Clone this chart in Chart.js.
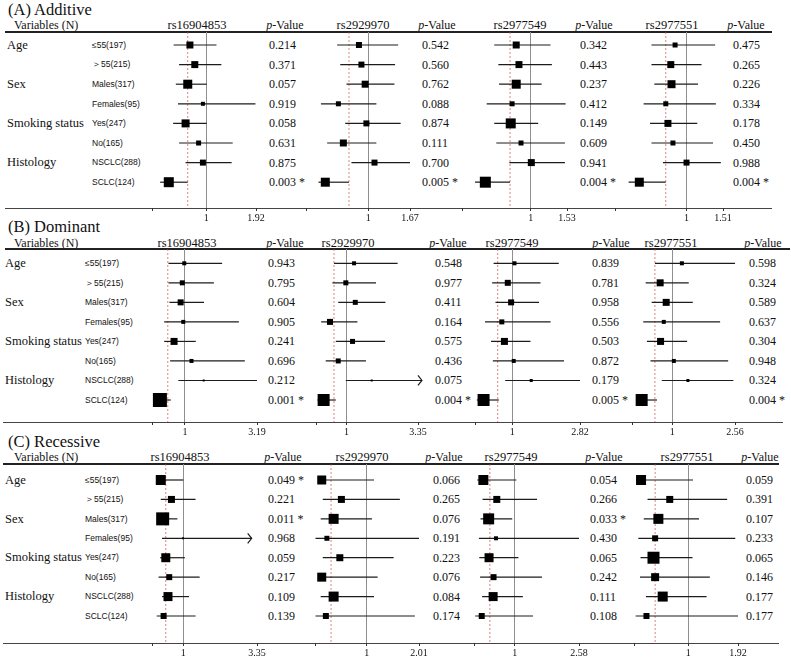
<!DOCTYPE html>
<html>
<head>
<meta charset="utf-8">
<script src="https://cdn.jsdelivr.net/npm/chart.js@4.4.0/dist/chart.umd.min.js"></script>
<style>
  body { margin: 0; background: #fff; }
  #page { position: relative; width: 791px; height: 659px; overflow: hidden;
          font-family: "Liberation Serif", "Times New Roman", serif; color: #111; }
  .t { position: absolute; white-space: nowrap; }
  .rule { position: absolute; }
  canvas { position: absolute; }
</style>
</head>
<body>
<div id="page"></div>
<script>
const snps = ['rs16904853', 'rs2929970', 'rs2977549', 'rs2977551'];
const groups = ['Age', 'Sex', 'Smoking status', 'Histology'];
const groupRows = [0, 2, 4, 6];
const subgroups = ['≤55', '＞55', 'Males', 'Females', 'Yes', 'No', 'NSCLC', 'SCLC'];
const counts = [197, 215, 317, 95, 247, 165, 288, 124];

// (A) additive model, one inner array per SNP
const addOR   = [[0.70, 0.79, 0.66, 0.94, 0.62, 0.86, 0.94, 0.31],
                 [0.85, 0.89, 0.95, 0.52, 0.97, 0.60, 1.10, 0.31],
                 [0.79, 0.83, 0.79, 0.73, 0.71, 0.86, 1.01, 0.34],
                 [0.84, 0.78, 0.79, 0.71, 0.74, 0.81, 1.00, 0.34]];
const addLow  = [[0.40, 0.50, 0.44, 0.48, 0.39, 0.50, 0.62, 0.15],
                 [0.50, 0.55, 0.65, 0.24, 0.63, 0.34, 0.73, 0.20],
                 [0.47, 0.53, 0.54, 0.36, 0.47, 0.50, 0.69, 0.19],
                 [0.51, 0.51, 0.55, 0.40, 0.49, 0.51, 0.67, 0.19]];
const addHigh = [[1.19, 1.28, 1.01, 1.91, 1.01, 1.49, 1.47, 0.66],
                 [1.48, 1.43, 1.42, 1.13, 1.52, 1.13, 1.67, 0.69],
                 [1.29, 1.31, 1.16, 1.51, 1.11, 1.50, 1.50, 0.70],
                 [1.40, 1.21, 1.16, 1.41, 1.15, 1.37, 1.48, 0.71]];
const addWeight = [[7, 7, 9, 4, 8, 5, 6, 10], [6, 6, 7, 5, 6, 7, 6, 9],
                   [7, 7, 9, 5, 10, 5, 7, 11], [5, 7, 8, 5, 7, 5, 6, 9]];
const addP = [['0.214', '0.371', '0.057', '0.919', '0.058', '0.631', '0.875', '0.003 *'],
              ['0.542', '0.560', '0.762', '0.088', '0.874', '0.111', '0.700', '0.005 *'],
              ['0.342', '0.443', '0.237', '0.412', '0.149', '0.609', '0.941', '0.004 *'],
              ['0.475', '0.265', '0.226', '0.334', '0.178', '0.450', '0.988', '0.004 *']];
const addRef = [0.66, 0.69, 0.70, 0.71];
const addMax = [1.92, 1.67, 1.53, 1.51];
const addArrow = [[], [], [], []];

// (B) dominant model
const domOR   = [[0.98, 0.92, 0.87, 0.95, 0.67, 1.20, 1.57, 0.24],
                 [1.25, 0.98, 1.29, 0.46, 1.20, 0.73, 1.83, 0.25],
                 [1.06, 0.88, 0.97, 0.72, 0.79, 1.04, 1.51, 0.23],
                 [1.24, 0.70, 0.85, 0.79, 0.71, 1.04, 1.39, 0.24]];
const domLow  = [[0.50, 0.50, 0.53, 0.37, 0.37, 0.55, 0.80, 0.05],
                 [0.59, 0.54, 0.73, 0.17, 0.65, 0.32, 0.98, 0.05],
                 [0.50, 0.46, 0.55, 0.27, 0.43, 0.48, 0.81, 0.05],
                 [0.57, 0.34, 0.49, 0.28, 0.37, 0.46, 0.74, 0.10]];
const domHigh = [[2.13, 1.88, 1.58, 2.64, 1.33, 2.82, 3.19, 0.57],
                 [2.68, 1.97, 2.28, 1.36, 2.27, 1.64, 3.48, 0.65],
                 [2.25, 1.76, 1.72, 2.03, 1.49, 2.39, 2.82, 0.64],
                 [2.56, 1.41, 1.51, 2.19, 1.37, 2.39, 2.52, 0.62]];
const domWeight = [[4, 5, 6, 4, 7, 4, 2, 14], [4, 5, 5, 6, 5, 5, 2, 12],
                   [4, 6, 6, 5, 7, 4, 3, 12], [4, 7, 7, 4, 7, 4, 3, 12]];
const domP = [['0.943', '0.795', '0.604', '0.905', '0.241', '0.696', '0.212', '0.001 *'],
              ['0.548', '0.977', '0.411', '0.164', '0.575', '0.436', '0.075', '0.004 *'],
              ['0.839', '0.781', '0.958', '0.556', '0.503', '0.872', '0.179', '0.005 *'],
              ['0.598', '0.324', '0.589', '0.637', '0.304', '0.948', '0.324', '0.004 *']];
const domRef = [0.48, 0.59, 0.61, 0.57];
const domMax = [3.19, 3.35, 2.82, 2.56];
const domArrow = [[], [6], [], []];

// (C) recessive model
const recOR   = [[0.28, 0.62, 0.34, 0.99, 0.44, 0.55, 0.51, 0.37],
                 [0.13, 0.51, 0.36, 0.23, 0.48, 0.13, 0.36, 0.21],
                 [0.23, 0.56, 0.36, 0.54, 0.37, 0.48, 0.47, 0.19],
                 [0.13, 0.66, 0.45, 0.39, 0.36, 0.39, 0.53, 0.23]];
const recLow  = [[0.13, 0.28, 0.18, 0.32, 0.26, 0.21, 0.32, 0.15],
                 [0.06, 0.15, 0.11, 0.01, 0.15, 0.08, 0.11, 0.01],
                 [0.08, 0.21, 0.16, 0.12, 0.13, 0.15, 0.20, 0.03],
                 [0.04, 0.25, 0.18, 0.08, 0.12, 0.11, 0.22, 0.03]];
const recHigh = [[1.00, 1.39, 0.81, 3.18, 1.05, 1.52, 1.18, 1.39],
                 [1.14, 1.64, 1.10, 2.01, 1.52, 1.21, 1.14, 1.93],
                 [1.04, 1.55, 0.94, 2.58, 1.09, 1.67, 1.20, 1.45],
                 [1.09, 1.72, 1.20, 1.87, 1.08, 1.40, 1.34, 1.92]];
const recWeight = [[10, 7, 13, 2, 9, 6, 9, 6], [9, 7, 10, 5, 7, 9, 10, 6],
                   [10, 7, 11, 4, 9, 6, 9, 6], [10, 7, 10, 6, 12, 8, 10, 6]];
const recP = [['0.049 *', '0.221', '0.011 *', '0.968', '0.059', '0.217', '0.109', '0.139'],
              ['0.066', '0.265', '0.076', '0.191', '0.223', '0.076', '0.084', '0.174'],
              ['0.054', '0.266', '0.033 *', '0.430', '0.065', '0.242', '0.111', '0.108'],
              ['0.059', '0.391', '0.107', '0.233', '0.065', '0.146', '0.177', '0.177']];
const recRef = [0.44, 0.31, 0.39, 0.39];
const recMax = [3.35, 2.01, 2.58, 1.92];
const recArrow = [[3], [], [], []];

const models = [
  { or: addOR, lo: addLow, hi: addHigh, wt: addWeight, p: addP, ref: addRef, max: addMax, arrows: addArrow },
  { or: domOR, lo: domLow, hi: domHigh, wt: domWeight, p: domP, ref: domRef, max: domMax, arrows: domArrow },
  { or: recOR, lo: recLow, hi: recHigh, wt: recWeight, p: recP, ref: recRef, max: recMax, arrows: recArrow }
];

// page layout of the three panels
const layouts = [
  { title: '(A) Additive', titleBase: 16, headY: 25, lineY: 32, axisY: 208, row0: 45, step: 19.6,
    labelX: 92, groupX: 7, ruleL: 5, ruleR: 772, axisL: 5, axisR: 772,
    left: [152, 306, 462, 615], right: [256, 410, 567, 723],
    snpX: [197, 363, 520, 672], pvX: [285, 437, 594, 746], pX: [269, 422, 580, 733] },
  { title: '(B) Dominant', titleBase: 233, headY: 243, lineY: 249, axisY: 422, row0: 263.3, step: 19.53,
    labelX: 85, groupX: 5, ruleL: 5, ruleR: 790, axisL: 3, axisR: 783,
    left: [152, 316, 475, 632], right: [257, 418, 580, 735],
    snpX: [187, 348, 512, 671], pvX: [285, 448, 611, 763], pX: [268, 435, 592, 749] },
  { title: '(C) Recessive', titleBase: 448, headY: 457, lineY: 464, axisY: 643, row0: 480, step: 19.43,
    labelX: 85, groupX: 5, ruleL: 3, ruleR: 779, axisL: 3, axisR: 779,
    left: [152, 315, 474, 634], right: [257, 419, 579, 738],
    snpX: [180, 362, 511, 687], pvX: [283, 444, 604, 760], pX: [268, 433, 590, 746] }
];

const page = document.getElementById('page');

function text(x, cy, html, size, opts = {}) {
  const d = document.createElement('div');
  d.className = 't';
  d.innerHTML = html;
  d.style.left = x + 'px';
  d.style.top = (cy - size / 2) + 'px';
  d.style.fontSize = size + 'px';
  d.style.lineHeight = size + 'px';
  if (opts.family) d.style.fontFamily = opts.family;
  if (opts.center) d.style.transform = 'translateX(-50%)';
  page.appendChild(d);
}

function rule(x0, x1, y, h, color) {
  const d = document.createElement('div');
  d.className = 'rule';
  d.style.left = x0 + 'px';
  d.style.width = (x1 - x0) + 'px';
  d.style.top = y + 'px';
  d.style.height = h + 'px';
  d.style.background = color;
  page.appendChild(d);
}

function forest(L, M, k) {
  const padL = 8, padR = 26, xH = 16;
  const areaH = L.axisY - L.lineY;
  const cv = document.createElement('canvas');
  cv.width = L.right[k] - L.left[k] + padL + padR;
  cv.height = areaH + xH;
  cv.style.left = (L.left[k] - padL) + 'px';
  cv.style.top = L.lineY + 'px';
  page.appendChild(cv);

  const yMin = -(L.row0 - L.lineY) / L.step;
  const yMax = (L.axisY - L.row0) / L.step;
  const or = M.or[k], lo = M.lo[k], hi = M.hi[k], wt = M.wt[k], max = M.max[k];

  const datasets = [{
    data: or.map((v, i) => ({ x: v, y: i })),
    pointStyle: 'rect',
    pointRadius: wt.map(s => s / Math.SQRT2),
    backgroundColor: '#000', borderWidth: 0, clip: false
  }];
  or.forEach((v, i) => datasets.push({
    data: [{ x: lo[i], y: i }, { x: hi[i], y: i }],
    showLine: true, borderColor: '#1c1c1c', borderWidth: 1.2, pointRadius: 0, clip: false
  }));
  datasets.push({
    data: [{ x: M.ref[k], y: yMin }, { x: M.ref[k], y: yMax }],
    showLine: true, borderColor: 'rgba(214, 80, 80, 0.8)', borderWidth: 0.9, borderDash: [2, 2], pointRadius: 0
  });

  const arrowHeads = {
    id: 'arrowHeads',
    afterDatasetsDraw(chart) {
      const c = chart.ctx, xs = chart.scales.x, ys = chart.scales.y;
      c.save();
      c.strokeStyle = '#1c1c1c';
      c.lineWidth = 1.2;
      M.arrows[k].forEach(i => {
        const px = xs.getPixelForValue(hi[i]), py = ys.getPixelForValue(i);
        c.beginPath();
        c.moveTo(px - 4, py - 5);
        c.lineTo(px, py);
        c.lineTo(px - 4, py + 5);
        c.stroke();
      });
      c.restore();
    }
  };

  new Chart(cv, {
    type: 'scatter',
    data: { datasets },
    options: {
      responsive: false,
      animation: false,
      events: [],
      layout: { autoPadding: false, padding: { left: padL, right: padR, top: 0, bottom: 0 } },
      plugins: { legend: { display: false }, tooltip: { enabled: false } },
      scales: {
        x: {
          type: 'linear', min: 0, max: max,
          afterBuildTicks: s => { s.ticks = [0, 1, max].map(v => ({ value: v })); },
          afterFit: s => { s.height = xH; },
          ticks: {
            autoSkip: false, maxRotation: 0, padding: 1, color: '#111',
            font: { family: 'Liberation Serif', size: 10 },
            callback: v => v === 0 ? '' : (v === 1 ? '1' : max.toFixed(2))
          },
          grid: {
            color: c => (c.tick && c.tick.value === 1) ? '#8f8f8f' : 'rgba(0,0,0,0)',
            tickColor: '#333', tickLength: 3, lineWidth: 1
          },
          border: { display: false }
        },
        y: { type: 'linear', display: false, reverse: true, min: yMin, max: yMax }
      }
    },
    plugins: [arrowHeads]
  });
}

layouts.forEach((L, m) => {
  const M = models[m];
  text(8, L.titleBase - 13.8 + 8.25, L.title, 16.5);
  text(14, L.headY, 'Variables (N)', 12);
  snps.forEach((s, k) => {
    text(L.snpX[k], L.headY, s, 12.5, { center: true });
    text(L.pvX[k], L.headY, '<i>p</i>-Value', 12, { center: true });
  });
  rule(L.ruleL, L.ruleR, L.lineY - 1, 1.6, '#222');
  rule(L.axisL, L.axisR, L.axisY, 1, '#444');
  groups.forEach((g, i) => text(L.groupX, L.row0 + groupRows[i] * L.step, g, 12.5));
  subgroups.forEach((s, i) => text(L.labelX, L.row0 + i * L.step, s + '(' + counts[i] + ')', 8.5,
    { family: '"Liberation Sans", Arial, sans-serif' }));
  snps.forEach((s, k) => {
    M.p[k].forEach((p, i) => text(L.pX[k], L.row0 + i * L.step, p, 12));
    forest(L, M, k);
  });
});
</script>
</body>
</html>
